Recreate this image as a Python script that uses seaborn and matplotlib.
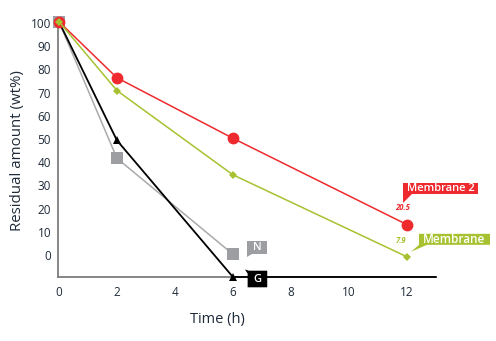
import numpy as np
import pandas as pd
import matplotlib
matplotlib.use("Agg")
import matplotlib.pyplot as plt
import matplotlib.transforms as mtransforms
from matplotlib.patches import Polygon
import seaborn as sns

# ---- data -------------------------------------------------------------
membrane2_time = [0, 2, 6, 12]
membrane2_vals = [100, 78, 54.3, 20.5]

membrane_time = [0, 2, 6, 12]
membrane_vals = [100, 73, 40, 7.9]

n_time = [0, 2, 6]
n_vals = [100, 46.5, 8.9]

g_time = [0, 2, 6, 13]
g_vals = [100, 53.5, 0, 0]

x_ticks = [0, 2, 4, 6, 8, 10, 12]
y_tick_labels = ["100", "90", "80", "70", "60", "50", "40", "30", "20", "10", "0"]
y_tick_marks = [100, 90, 80, 70, 60, 50, 40, 30, 20, 10]

# ---- style ------------------------------------------------------------
sns.set_style("white")
plt.rcParams["font.family"] = ["Open Sans", "DejaVu Sans"]
TXT = "#1f2b3a"
RED = "#ee2a2e"
GREEN = "#a6c230"
GRAY_M = "#9d9ea2"
GRAY_L = "#a9aaad"
AXIS = "#7d7d7d"

fig = plt.figure(figsize=(4.96, 3.41), dpi=100)
ax = fig.add_axes([58 / 496, 64 / 341, 378 / 496, 258 / 341])

def series(t, v, **kw):
    df = pd.DataFrame({"t": t, "v": v})
    sns.lineplot(data=df, x="t", y="v", ax=ax, sort=False, estimator=None,
                 clip_on=False, **kw)

series(n_time, n_vals, color=GRAY_L, lw=1.1, marker="s", ms=8,
       mfc=GRAY_M, mec=GRAY_M, mew=0, zorder=3)
series(g_time, g_vals, color="black", lw=1.3, marker="^", ms=6,
       mfc="black", mec="black", mew=0, markevery=[1, 2], zorder=4)
series(membrane2_time, membrane2_vals, color=RED, lw=1.1, marker="o", ms=8.5,
       mfc=RED, mec=RED, mew=0, zorder=5)
series(membrane_time, membrane_vals, color=GREEN, lw=1.1, marker="D", ms=4.4,
       mfc=GREEN, mec=GREEN, mew=0, zorder=6)

ax.set_xlim(-0.03, 13)
ax.set_ylim(0, 101)

# ---- axes -------------------------------------------------------------
for s in ("top", "right"):
    ax.spines[s].set_visible(False)
for s in ("left", "bottom"):
    ax.spines[s].set_color(AXIS)
    ax.spines[s].set_linewidth(1.3)
    ax.spines[s].set_zorder(2)

ax.set_xticks(x_ticks)
ax.set_xticklabels([str(t) for t in x_ticks])
ax.tick_params(axis="x", length=0, pad=6.5, labelsize=8.5, labelcolor=TXT)

ax.set_yticks(y_tick_marks)
ax.set_yticklabels([])
ax.tick_params(axis="y", which="major", direction="in", length=5,
               width=1.2, color=AXIS)
ax.set_yticks(np.linspace(99.4, 8.6, len(y_tick_labels)), minor=True)
ax.set_yticklabels(y_tick_labels, minor=True)
ax.tick_params(axis="y", which="minor", length=0, pad=5, labelsize=8.5,
               labelcolor=TXT)

ax.set_xlabel("Time (h)", fontsize=10.5, color=TXT, va="center")
ax.xaxis.set_label_coords(0.422, -0.163)
ax.set_ylabel("Residual amount (wt%)", fontsize=10.8, color=TXT, va="center")
ax.yaxis.set_label_coords(-0.106, 0.49)
ax.grid(False)

# ---- callouts (vertices in pixels relative to a data point) ------------
def anchor(x, y):
    return mtransforms.Affine2D() + mtransforms.ScaledTranslation(x, y, ax.transData)

def callout(x, y, verts, color, text, tx, ty, size=7.5, tc="white"):
    tr = anchor(x, y)
    ax.add_patch(Polygon(verts, closed=True, facecolor=color, edgecolor="none",
                         transform=tr, clip_on=False, zorder=8))
    ax.text(tx, ty, text, transform=tr, color=tc, fontsize=size,
            fontweight="semibold", ha="center", va="center", zorder=9,
            clip_on=False)

x, y = membrane2_time[-1], membrane2_vals[-1]
callout(x, y, [(-4, 22), (-4, 42), (71, 42), (71, 30.5), (5, 30.5), (-4, 22)],
        RED, "Membrane 2", 33.5, 36.5, size=8)
ax.text(-4, 17, f"{y}", transform=anchor(x, y), color=RED, fontsize=5.5,
        style="italic", fontweight="bold", ha="center", va="center")

x, y = membrane_time[-1], membrane_vals[-1]
callout(x, y, [(4, 5), (12, 12), (12, 23), (83, 23), (83, 12), (20, 12), (4, 5)],
        GREEN, "Membrane", 47.5, 17.5, size=8.5)
ax.text(-6, 16, f"{y}", transform=anchor(x, y), color=GREEN, fontsize=5.5,
        style="italic", fontweight="bold", ha="center", va="center")

x, y = n_time[-1], n_vals[-1]
callout(x, y, [(13.7, -2.4), (13.7, 13.6), (34, 13.6), (34, 0.3), (19, 0.3),
               (13.7, -2.4)], GRAY_M, "N", 24, 7, size=8)

x, y = g_time[2], g_vals[2]
callout(x, y, [(12, 7.5), (16, 6.3), (34.3, 6.3), (34.3, -10.3), (14.7, -10.3),
               (14.7, 3.5), (12, 7.5)], "black", "G", 24.5, -2, size=8)

fig.savefig("out.png", dpi=100)
